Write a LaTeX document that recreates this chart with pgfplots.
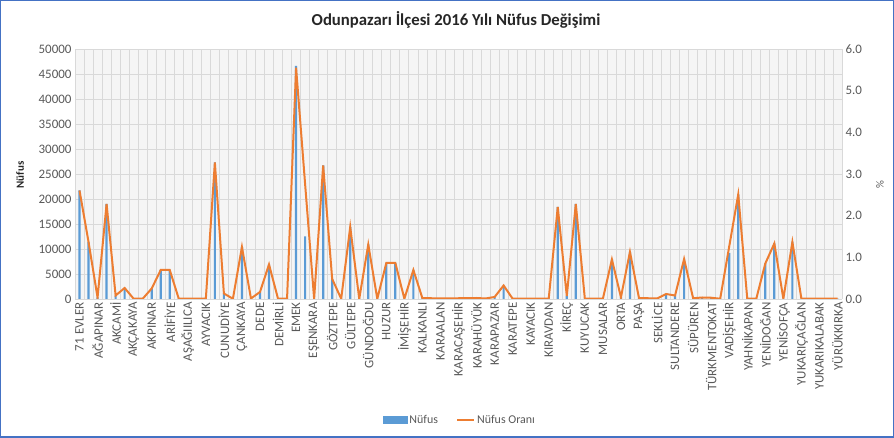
\documentclass[border=0pt]{standalone}
\usepackage{pgfplots}
\pgfplotsset{compat=1.18}
\usepackage{pgfplotstable}
\usepackage{fontspec}
\setmainfont{Carlito}
\definecolor{barblue}{HTML}{5B9BD5}
\definecolor{lineorange}{HTML}{ED7D31}
\definecolor{ticktext}{HTML}{595959}
\definecolor{gridc}{HTML}{D9D9D9}
\definecolor{frameblue}{HTML}{4472C4}

\pgfplotstableread{
k n p
0 21700 2.604
1 11400 1.368
2 300 0.036
3 19000 2.28
4 700 0.084
5 2200 0.264
6 50 0.006
7 50 0.006
8 2100 0.252
9 5800 0.696
10 5800 0.696
11 50 0.006
12 50 0.006
13 50 0.006
14 50 0.006
15 27300 3.276
16 1100 0.132
17 50 0.006
18 10400 1.248
19 100 0.012
20 1400 0.168
21 6900 0.828
22 50 0.006
23 50 0.006
24 46600 5.55
25 12500 2.76
26 50 0.006
27 26700 3.204
28 4000 0.48
29 50 0.006
30 14400 1.728
31 50 0.006
32 10900 1.308
33 50 0.006
34 7200 0.864
35 7200 0.864
36 50 0.006
37 5800 0.696
38 150 0.018
39 150 0.018
40 100 0.012
41 100 0.012
42 150 0.018
43 150 0.018
44 200 0.024
45 100 0.012
46 400 0.048
47 2700 0.324
48 50 0.006
49 50 0.006
50 50 0.006
51 50 0.006
52 100 0.012
53 18400 2.208
54 600 0.072
55 19000 2.28
56 50 0.006
57 50 0.006
58 50 0.006
59 7900 0.948
60 350 0.042
61 9400 1.128
62 200 0.024
63 150 0.018
64 100 0.012
65 1000 0.12
66 700 0.084
67 8000 0.96
68 150 0.018
69 300 0.036
70 250 0.03
71 50 0.006
72 9200 1.26
73 20900 2.508
74 50 0.006
75 50 0.006
76 7100 0.852
77 11100 1.332
78 50 0.006
79 11400 1.368
80 50 0.006
81 50 0.006
82 50 0.006
83 50 0.006
84 50 0.006
}\datatable

\begin{document}
\begin{tikzpicture}[x=1bp,y=1bp]
\draw[frameblue, line width=1.5bp] (0.75,0.75) rectangle (893.25,437.25);
\node[font=\fontsize{16.8}{20}\selectfont\bfseries, text=black!85] at (456,418) {Odunpazarı İlçesi 2016 Yılı Nüfus Değişimi};
\node[rotate=90, font=\fontsize{11}{13}\selectfont\bfseries, text=black!85] at (20,263) {Nüfus};
\node[rotate=90, font=\fontsize{11}{13}\selectfont, text=ticktext] at (880,253) {\%};
\begin{axis}[
  at={(75bp,139bp)}, anchor=south west,
  width=767bp, height=250bp, scale only axis,
  xmin=-0.5, xmax=84.5, ymin=0, ymax=50000,
  ytick={0,5000,...,50000},
  xtick={0,2,...,84},
  xticklabels={71 EVLER, AĞAPINAR, AKCAMİ, AKÇAKAYA, AKPINAR, ARİFİYE, AŞAĞIILICA, AYVACIK, CUNUDİYE, ÇANKAYA, DEDE, DEMİRLİ, EMEK, EŞENKARA, GÖZTEPE, GÜLTEPE, GÜNDOĞDU, HUZUR, İMİŞEHİR, KALKANLI, KARAALAN, KARACAŞEHİR, KARAHÜYÜK, KARAPAZAR, KARATEPE, KAYACIK, KIRAVDAN, KİREÇ, KUYUCAK, MUSALAR, ORTA, PAŞA, SEKLİCE, SULTANDERE, SÜPÜREN, TÜRKMENTOKAT, VADİŞEHİR, YAHNİKAPAN, YENİDOĞAN, YENİSOFÇA, YUKARIÇAĞLAN, YUKARIKALABAK, YÜRÜKKIRKA},
  minor xtick={-0.5,0.5,...,84.5},
  ymajorgrids, xminorgrids,
  grid style={gridc, line width=0.8bp},
  minor grid style={gridc, line width=0.8bp},
  axis background/.style={fill=gray!8},
  axis line style={draw=none},
  major tick length=0, minor tick length=0,
  x tick label style={rotate=90, anchor=east, font=\fontsize{13}{15}\selectfont, text=ticktext},
  y tick label style={font=\fontsize{13}{15}\selectfont, text=ticktext},
  scaled y ticks=false,
  yticklabel style={/pgf/number format/.cd, fixed, 1000 sep={}},
  /pgf/number format/assume math mode=true,
  ybar, bar width=2.2bp,
]
\addplot[fill=barblue, draw=none] table[x=k,y=n]{\datatable};
\end{axis}
\begin{axis}[
  at={(75bp,139bp)}, anchor=south west,
  width=767bp, height=250bp, scale only axis,
  xmin=-0.5, xmax=84.5, ymin=0, ymax=6,
  ytick={0,1,...,6},
  axis y line*=right, hide x axis,
  axis line style={draw=none},
  major tick length=0,
  y tick label style={font=\fontsize{13}{15}\selectfont, text=ticktext},
  yticklabel style={/pgf/number format/.cd, fixed, fixed zerofill, precision=1},
  /pgf/number format/assume math mode=true,
  legend style={draw=none, fill=none, at={(0.502,-0.484)}, anchor=center,
    legend columns=2, font=\fontsize{12}{14}\selectfont, text=ticktext,
    /tikz/every even column/.append style={column sep=16bp}},
]
\addlegendimage{legend image code/.code={\fill[barblue] (0bp,-3.5bp) rectangle (24bp,3.5bp);}}
\addlegendentry{Nüfus}
\addplot[lineorange, line width=2bp, mark=none] table[x=k,y=p]{\datatable};
\addlegendentry{Nüfus Oranı}
\end{axis}
\end{tikzpicture}
\end{document}
